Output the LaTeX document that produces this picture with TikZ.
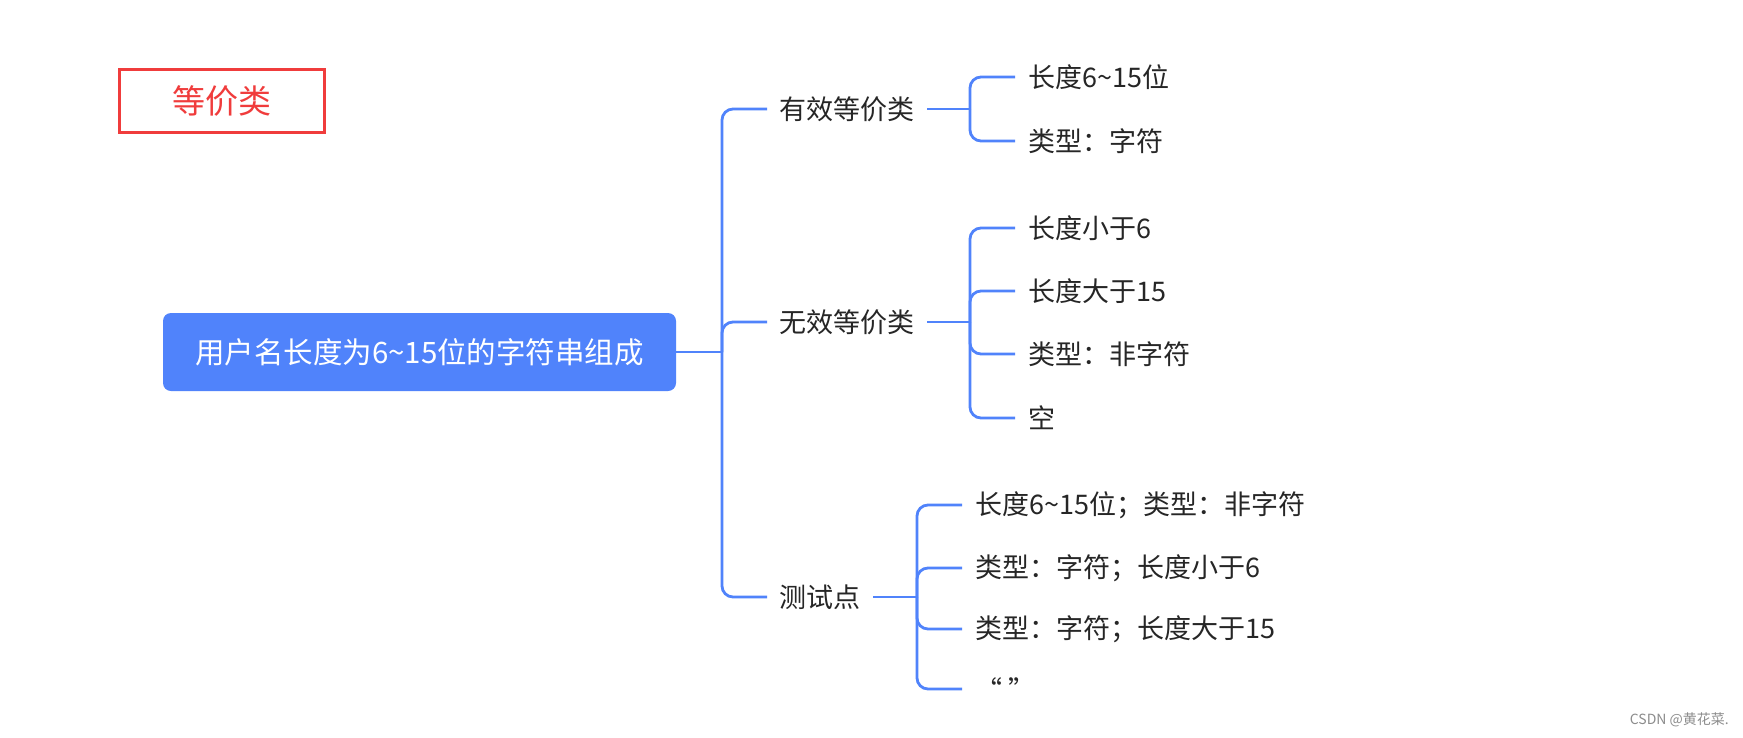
\documentclass[tikz,border=0pt]{standalone}
\usepackage{fontspec}
\setmainfont{Noto Sans CJK SC}
\newfontfamily\cjk{Noto Sans CJK SC}
\definecolor{mblue}{RGB}{80,131,251}
\definecolor{mred}{RGB}{240,60,60}
\definecolor{mtext}{RGB}{38,38,38}
\begin{document}
\begin{tikzpicture}[x=1pt,y=-1pt,
  conn/.style={draw=mblue,line width=2.8pt,rounded corners=11pt},
  lbl/.style={anchor=west,inner xsep=12.5pt,inner ysep=2pt,text=mtext,font=\cjk\fontsize{27}{30}\selectfont},
  leaf/.style={anchor=west,inner xsep=13pt,inner ysep=2pt,text=mtext,font=\cjk\fontsize{27}{30}\selectfont},
]
\useasboundingbox[fill=white] (0,0) rectangle (1743,737);
% title box
\node[draw=mred,line width=3pt,minimum width=205pt,minimum height=63pt,text=mred,font=\cjk\fontsize{33}{36}\selectfont] (title) at (221.5,101) {等价类};
% root
\node[fill=mblue,rounded corners=8pt,minimum width=513pt,minimum height=78pt,text=white,font=\cjk\fontsize{29.5}{32}\selectfont] (root) at (419.5,352) {用户名长度为6\textasciitilde15位的字符串组成};
% level 1
\node[lbl] (c1) at (767,109) {有效等价类};
\node[lbl] (c2) at (767,322) {无效等价类};
\node[lbl] (c3) at (767,597) {测试点};
\coordinate (j0) at (722,352);
\draw[conn] (root.east) -- (j0);
\draw[conn] (j0) |- (c1.west);
\draw[conn] (j0) |- (c2.west);
\draw[conn] (j0) |- (c3.west);
% level 2 under c1
\coordinate (s1) at (970,109);
\node[leaf] (l11) at (1015,77) {长度6\textasciitilde15位};
\node[leaf] (l12) at (1015,141) {类型：字符};
\draw[conn] (c1.east) -- (s1);
\draw[conn] (s1) |- (l11.west);
\draw[conn] (s1) |- (l12.west);
% level 2 under c2
\coordinate (s2) at (970,322);
\node[leaf] (l21) at (1015,228) {长度小于6};
\node[leaf] (l22) at (1015,291) {长度大于15};
\node[leaf] (l23) at (1015,354) {类型：非字符};
\node[leaf] (l24) at (1015,418) {空};
\draw[conn] (c2.east) -- (s2);
\foreach \n in {l21,l22,l23,l24} \draw[conn] (s2) |- (\n.west);
% level 2 under c3
\coordinate (s3) at (917,597);
\node[leaf] (l31) at (962,505) {长度6\textasciitilde15位；类型：非字符};
\node[leaf] (l32) at (962,568) {类型：字符；长度小于6};
\node[leaf] (l33) at (962,629) {类型：字符；长度大于15};
\node[leaf] (l34) at (962,689) {“ ”};
\draw[conn] (c3.east) -- (s3);
\foreach \n in {l31,l32,l33,l34} \draw[conn] (s3) |- (\n.west);
% watermark
\node[anchor=east,text=black!45,font=\cjk\fontsize{14}{16}\selectfont,inner sep=0pt] (wm) at (1729,720) {CSDN @黄花菜.};
\end{tikzpicture}
\end{document}
